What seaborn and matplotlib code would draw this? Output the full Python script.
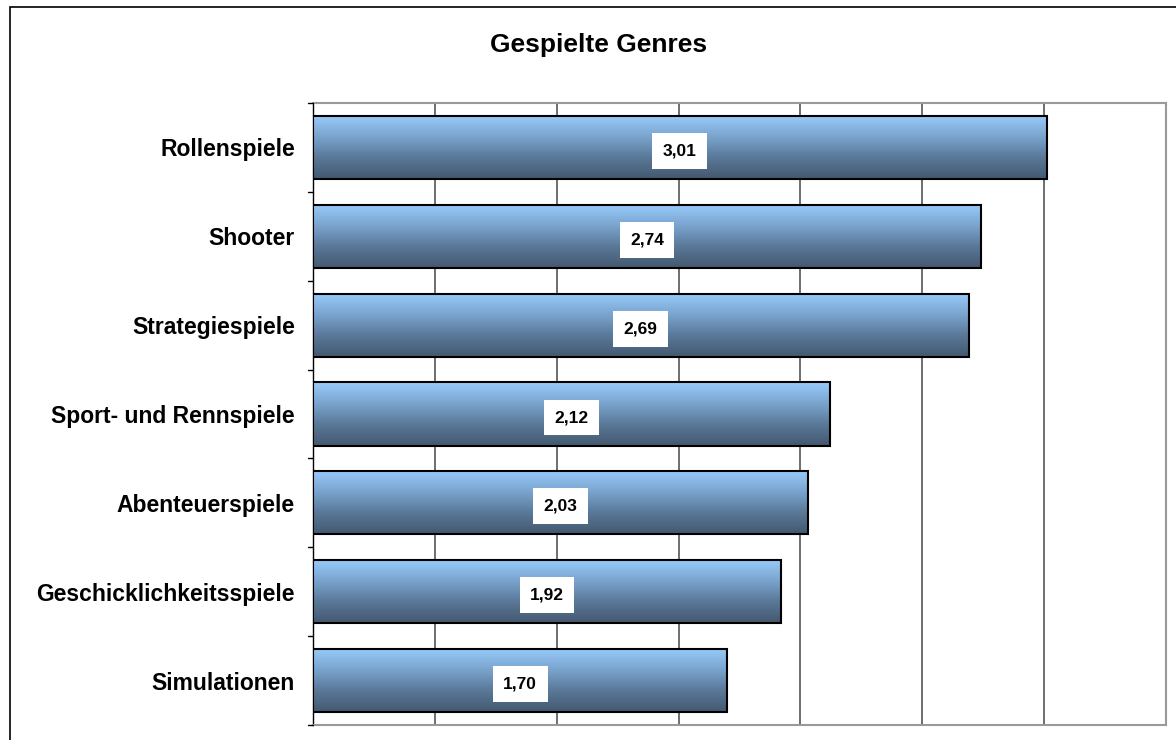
import numpy as np
import pandas as pd
import matplotlib
matplotlib.use("Agg")
import matplotlib.pyplot as plt
from matplotlib.colors import LinearSegmentedColormap
from matplotlib.patches import Rectangle
import seaborn as sns

genres = ["Rollenspiele", "Shooter", "Strategiespiele", "Sport- und Rennspiele",
          "Abenteuerspiele", "Geschicklichkeitsspiele", "Simulationen"]
values = [3.01, 2.74, 2.69, 2.12, 2.03, 1.92, 1.70]
labels = ["3,01", "2,74", "2,69", "2,12", "2,03", "1,92", "1,70"]
title = "Gespielte Genres"

sns.set_theme(style="white")
plt.rcParams['font.family'] = ['Liberation Sans', 'DejaVu Sans']
plt.rcParams['text.color'] = 'black'

df = pd.DataFrame({"genre": genres, "value": values})

fig = plt.figure(figsize=(11.76, 7.40), dpi=100)
ax = fig.add_axes([313/1176, 1-725/740, (1166-313)/1176, (725-103)/740])

sns.barplot(data=df, y="genre", x="value", orient="h", ax=ax, width=0.71,
            color="#7fa8d0", edgecolor="black", linewidth=1.5, zorder=3)

ax.set_xticks(np.arange(0, 3.51, 0.5))
ax.xaxis.grid(True, color="#555555", linewidth=1.2, zorder=0)
ax.set_axisbelow(True)
ax.tick_params(axis="x", length=0, labelbottom=False)

# gradient fill
cmap = LinearSegmentedColormap.from_list("g", ["#98CCFC", "#7AA4CE", "#5A7898", "#44586F"])
grad = np.linspace(0, 1, 256).reshape(-1, 1)
for p in ax.patches:
    x0, y0 = p.get_x(), p.get_y()
    w, h = p.get_width(), p.get_height()
    im = ax.imshow(grad, aspect="auto", cmap=cmap,
                   extent=[x0, x0 + w, y0 + h, y0], origin="upper", zorder=3.5)
    im.set_clip_path(p)
    p.set_facecolor("none")
    p.set_zorder(4)
ax.set_xlim(0, 3.5)
ax.set_ylim(len(genres)-0.5, -0.5)

# value labels
for i, (v, lab) in enumerate(zip(values, labels)):
    ax.text(v/2, i + 0.04, lab, ha="center", va="center", fontsize=12.5, fontweight="bold",
            color="black", zorder=6,
            bbox=dict(boxstyle="square,pad=0.6", facecolor="white", edgecolor="none"))

# y ticks at category boundaries
ax.set_yticks(range(len(genres)))
ax.set_yticklabels(genres, fontsize=16.5, fontweight="bold", color="black")
ax.tick_params(axis="y", length=0, pad=13)
for b in np.arange(-0.5, len(genres), 1.0):
    ax.plot([-0.006, 0], [b, b], transform=ax.get_yaxis_transform(), color="black",
            linewidth=1, clip_on=False, zorder=5)
ax.set_ylabel("")
ax.set_xlabel("")

for s in ["top", "right", "bottom"]:
    ax.spines[s].set_color("#999999")
    ax.spines[s].set_linewidth(1.5)
ax.spines["left"].set_color("black")
ax.spines["left"].set_linewidth(1)

fig.text(599/1176, 1-45/740, title, ha="center", va="center", fontsize=19,
         fontweight="bold", color="black")

fig.patches.append(Rectangle((10/1176, -0.05), 1.1, 1-7/740+0.05, transform=fig.transFigure,
                             fill=False, edgecolor="black", linewidth=1.2))

fig.savefig("out.png", dpi=100)
